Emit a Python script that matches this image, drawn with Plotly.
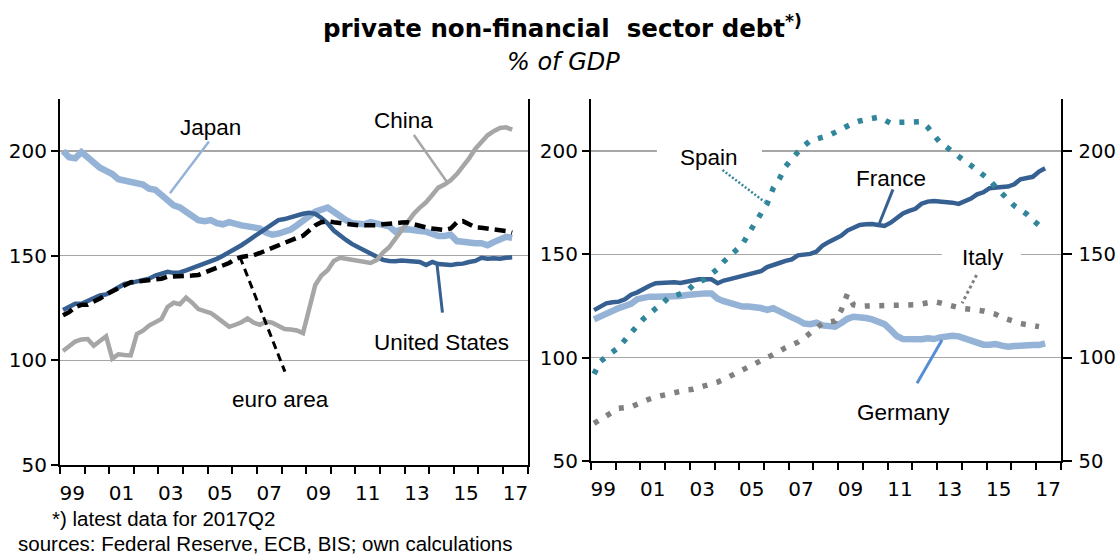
import pandas as pd
import plotly.graph_objects as go

W, H = 1117, 557

# ---------------- data (quarterly, % of GDP) ----------------
quarters = pd.period_range("1999Q1", "2017Q2", freq="Q")
dates = quarters.to_timestamp(how="start") + pd.Timedelta(days=45)

japan = [200, 197, 196.5, 199.5,
         197, 194, 192, 190.5,
         189, 186.5, 186, 185.5,
         185, 184, 182, 181.5,
         179, 176, 174, 173,
         171, 169, 167, 166.5,
         167, 165.5, 165, 166,
         165, 164.5, 164, 163.5,
         163, 161, 160, 160.5,
         161.5, 162.5, 164.5, 166.5,
         169, 171, 172, 173,
         171, 168.5, 167, 165.5,
         165, 165, 166, 165.5,
         165, 164, 161.5, 162.5,
         162.6, 162.5, 161.8, 161.5,
         160, 159.4, 159.4, 160,
         157, 156.5, 156, 156,
         156, 155, 156.5, 158,
         159, 158.5]

united_states = [124, 125.5, 127, 127,
                 128.5, 130, 131, 131.5,
                 133, 134.8, 136.5, 137,
                 137.5, 138, 139, 140.5,
                 141.5, 142.3, 141.8, 142,
                 143, 144, 145, 146,
                 147, 148.5, 150, 151.5,
                 153, 155, 157, 159,
                 161, 163, 165.5, 167,
                 167.5, 168.5, 169.5, 170,
                 170.5, 170, 168, 165.5,
                 162, 159.5, 157.5, 155.5,
                 154, 152.5, 150.5, 149,
                 148, 147.5, 147.3, 147.7,
                 147.5, 147.3, 147, 145.5,
                 147, 146, 145.5, 145.5,
                 146, 146.2, 147, 147.5,
                 149, 148.5, 148.8, 148.5,
                 149, 149.2]

euro_area = [121.5, 123, 125.5, 126.5,
             126.6, 127.8, 129.5, 131.5,
             133, 134.5, 136, 137.3,
             137.7, 137.9, 138.2, 138.6,
             139, 140, 140, 140.2,
             140.4, 140.5, 140.8, 142,
             143.2, 144.5, 145.5, 146.5,
             148.4, 149.4, 149.8, 150.2,
             151.3, 152.5, 153.5, 155.2,
             156.1, 157.7, 158.5, 159.5,
             162, 164.5, 166, 166.5,
             166, 165.5, 165, 164.8,
             164.5, 164.5, 164.3, 164.5,
             165, 165.5, 165.5, 165.8,
             166, 165, 164, 163.5,
             163, 162.5, 162.3, 163,
             166, 166.5, 165, 163.5,
             163.3, 163, 162.8, 162.3,
             161.8, 161]

china = [104.5, 107, 109, 110,
         110.2, 107, 109.4, 111.5,
         100.8, 102.9, 102.6, 102.4,
         112.6, 114.2, 116.6, 118,
         119.8, 125.5, 127.5, 126.8,
         130, 127.5, 124.5, 123.5,
         122.6, 120.5, 118, 116,
         117, 118.2, 120, 118,
         117, 118.5, 118, 116.5,
         115, 114.7, 114.3, 113,
         125, 136, 140.5, 143,
         147.5, 149, 148.5, 148,
         147.6, 147, 146.5, 148,
         151.5, 154, 158, 162,
         166, 170, 173, 175.5,
         179, 182.5, 184, 186,
         189, 192.5, 196.5, 201,
         204.5, 207.5, 209.5, 211,
         211.3, 210.2]

france = [123, 124.8, 126.3, 126.8,
          127.1, 128.2, 130.5, 131.6,
          133.5, 134.8, 136, 136.3,
          136.5, 136.5, 136.1, 136.8,
          137.6, 137.9, 137.9, 137.9,
          136, 137.3, 138, 138.8,
          139.5, 140.5, 141.2, 141.8,
          143.8, 145, 145.8, 146.8,
          147.5, 149.5, 150, 150.2,
          151.3, 154.3, 156, 157.3,
          159, 161.5, 163, 164.2,
          164.5, 164.7, 164.2, 163.7,
          165.3, 167.5, 169.8, 171,
          172, 174.5, 175.5, 175.8,
          175.7, 175.5, 175, 174.4,
          175.5, 177, 179, 180,
          182, 182.5, 182.6, 182.8,
          183.9, 186.3, 186.8, 187.5,
          190, 191.6]

germany = [118.5, 120, 121.3, 123,
           124, 125, 126, 128.3,
           129, 129.5, 129.5, 129.5,
           129.6, 129.8, 129.8, 130.3,
           130.8, 131.1, 131.1, 131.1,
           128.5, 127.3, 126.3, 125.5,
           124.7, 124.7, 124.7, 124,
           123.1, 123.9, 122.5, 120.6,
           119.5, 118.2, 116.5, 116.2,
           116.9, 115.6, 115, 115,
           116.8, 118.8, 119.8, 119.8,
           119.2, 118.5, 117.5, 116.2,
           113.4, 110.5, 109, 108.9,
           108.9, 108.9, 109.4, 109,
           109.8, 110.6, 110.6, 110.3,
           109.4, 108.5, 107.5, 106.3,
           106.3, 106.6, 105.8, 105.3,
           105.6, 106, 106.1, 106.1,
           106.1, 106.9]

spain = [92.1, 98, 100.5, 102.5,
         105, 108.5, 112.5, 115.5,
         118.8, 121.5, 123.8, 126,
         128.9, 129.8, 130.8, 132,
         135, 136.5, 138, 140.5,
         143, 146.5, 149.3, 152.5,
         154.8, 160, 164.5, 170,
         174.5, 182, 186.5, 192.5,
         196.5, 199.5, 202.5, 205,
         205.8, 206.5, 207.5, 209,
         210.5, 212.5, 213.5, 214.5,
         215, 215.5, 216.3, 215,
         213.4, 213.8, 214, 214.2,
         214.2, 214.2, 211.5, 208,
         204, 202, 199.5, 197.5,
         195, 193, 190.5, 188.5,
         186, 182.5, 179.5, 176,
         173.5, 171.5, 169.5, 166.5,
         164]

italy = [68.2, 70, 71.8, 73.5,
         75.5, 75.8, 76.2, 77.5,
         79, 80, 81, 81.8,
         82.3, 83.2, 83.8, 84.4,
         84.7, 85.5, 86.5, 87.2,
         88.2, 89.5, 91, 92.5,
         93.8, 94.8, 96.5, 97.8,
         99.5, 101, 103, 104.8,
         106, 107.5, 109.5, 112.2,
         114.5, 116.7, 117.2, 117.7,
         123, 130.8, 125.5, 124.8,
         125, 125.2, 125.2, 125.3,
         125.3, 125.3, 125.3, 125.4,
         125.6, 126, 126.6, 127.1,
         126.5, 125.6, 124.8, 124.2,
         123.7, 123.5, 123.2, 122.6,
         121.8, 121, 119.5, 118.3,
         117.7, 116.5, 116, 115.5,
         115]

year_ticks = ["1999-07-02", "2001-07-02", "2003-07-02", "2005-07-02", "2007-07-02",
              "2009-07-02", "2011-07-02", "2013-07-02", "2015-07-02", "2017-07-02"]
year_labels = ["99", "01", "03", "05", "07", "09", "11", "13", "15", "17"]
y_ticks = [50, 100, 150, 200]

# ---------------- styles ----------------
LIGHT = "#95B3D7"
DARK = "#376092"
GREY = "#A6A6A6"
TEAL = "#31869B"
DGREY = "#808080"
GER_CALL = "#558ED5"
FONT = "Liberation Sans, Arial, sans-serif"
TICKFONT = "DejaVu Sans, Verdana, sans-serif"


def px(x):
    return x / W


def py(y):
    return 1 - y / H


fig = go.Figure()

# left panel
fig.add_trace(go.Scatter(x=dates, y=japan, mode="lines", name="Japan",
                         line=dict(color=LIGHT, width=6.5), xaxis="x", yaxis="y"))
fig.add_trace(go.Scatter(x=dates, y=united_states, mode="lines", name="United States",
                         line=dict(color=DARK, width=4.5), xaxis="x", yaxis="y"))
fig.add_trace(go.Scatter(x=dates, y=china, mode="lines", name="China",
                         line=dict(color=GREY, width=4.5), xaxis="x", yaxis="y"))
fig.add_trace(go.Scatter(x=dates, y=euro_area, mode="lines", name="euro area",
                         line=dict(color="black", width=4.5, dash="11px,6px"),
                         xaxis="x", yaxis="y"))

# right panel
fig.add_trace(go.Scatter(x=dates, y=germany, mode="lines", name="Germany",
                         line=dict(color=LIGHT, width=6.5), xaxis="x2", yaxis="y2"))
fig.add_trace(go.Scatter(x=dates, y=france, mode="lines", name="France",
                         line=dict(color=DARK, width=4.5), xaxis="x2", yaxis="y2"))
fig.add_trace(go.Scatter(x=dates[:len(italy)], y=italy, mode="lines", name="Italy",
                         line=dict(color=DGREY, width=5.5, dash="5px,9.5px"),
                         xaxis="x2", yaxis="y3"))
fig.add_trace(go.Scatter(x=dates[:len(spain)], y=spain, mode="lines", name="Spain",
                         line=dict(color=TEAL, width=5.5, dash="5px,9.5px"),
                         xaxis="x2", yaxis="y3"))

xrange_ = ["1999-01-01", "2018-01-01"]
xaxis_common = dict(
    type="date", range=xrange_, showgrid=False, zeroline=False,
    showline=True, linecolor="black", linewidth=2,
    tickmode="array", tickvals=year_ticks, ticktext=year_labels,
    ticks="outside", ticklen=9, tickcolor="rgba(0,0,0,0)",
    tickfont=dict(family=TICKFONT, size=20, color="black"),
    minor=dict(ticks="outside", ticklen=7, tickwidth=2, tickcolor="black",
               tick0="1999-01-01", dtick="M12", showgrid=False),
    automargin=False, fixedrange=True,
)
yaxis_common = dict(
    range=[50, 225], tickmode="array", tickvals=y_ticks,
    showgrid=True, gridcolor="#A6A6A6", gridwidth=1.5, zeroline=False,
    showline=True, linecolor="black", linewidth=2,
    ticks="outside", ticklen=7, tickwidth=2, tickcolor="black",
    tickfont=dict(family=TICKFONT, size=20, color="black"),
    automargin=False, fixedrange=True,
)

fig.update_layout(
    width=W, height=H,
    margin=dict(l=0, r=0, t=0, b=0),
    template="none",
    paper_bgcolor="white", plot_bgcolor="white",
    showlegend=False,
    xaxis=dict(xaxis_common, domain=[px(60), px(527.7)], anchor="y"),
    yaxis=dict(yaxis_common, domain=[py(465), py(98.7)], anchor="x", mirror=True),
    xaxis2=dict(xaxis_common, domain=[px(591), px(1060.7)], anchor="y2"),
    yaxis2=dict(yaxis_common, domain=[py(461), py(99.3)], anchor="x2"),
    yaxis3=dict(yaxis_common, overlaying="y2", side="right", anchor="x2",
                showgrid=False, ticklen=9, ticklabelstandoff=3,
                tickfont=dict(family=TICKFONT, size=19.5, color="black")),
)

# white gaps in gridlines behind labels
fig.add_shape(type="rect", xref="x2", yref="y2", x0="2001-09-01", x1="2005-12-01",
              y0=197, y1=203, fillcolor="white", line=dict(width=0), layer="between")
fig.add_shape(type="rect", xref="x2", yref="y2", x0="2013-03-14", x1="2016-05-22",
              y0=147, y1=153, fillcolor="white", line=dict(width=0), layer="between")

# callout lines
callouts = [
    ("x", "y", "2005-01-19", 204.5, "2003-06-20", 179.8, LIGHT, 2.5, "solid"),
    ("x", "y", "2013-05-18", 207.7, "2014-09-16", 185.4, GREY, 2.5, "solid"),
    ("x", "y", "2014-04-27", 145.6, "2014-07-16", 122.8, DARK, 3, "solid"),
    ("x", "y", "2006-04-23", 149.5, "2008-02-20", 94.6, "black", 3, "8px,5px"),
    ("x2", "y2", "2004-04-27", 190.8, "2006-01-08", 175.4, TEAL, 2.5, "2px,2px"),
    ("x2", "y2", "2011-03-21", 181.4, "2010-09-02", 165.0, DARK, 3, "solid"),
    ("x2", "y2", "2014-08-07", 140.0, "2014-01-05", 126.3, DGREY, 3, "3px,3px"),
    ("x2", "y2", "2013-03-14", 108.5, "2012-03-10", 87.6, GER_CALL, 3, "solid"),
]
for xr, yr, x0, y0, x1, y1, col, wd, ds in callouts:
    fig.add_shape(type="line", xref=xr, yref=yr, x0=x0, y0=y0, x1=x1, y1=y1,
                  line=dict(color=col, width=wd, dash=ds), layer="above")

# series labels
labels = [
    ("Japan", 210.5, 127),
    ("China", 403.5, 120.5),
    ("United States", 441, 342),
    ("euro area", 280.6, 399),
    ("Spain", 708.7, 157),
    ("France", 890.6, 178),
    ("Italy", 983, 257),
    ("Germany", 903.5, 412),
]
for txt, x, y in labels:
    fig.add_annotation(text=txt, x=px(x), y=py(y), xref="paper", yref="paper",
                       showarrow=False, xanchor="center", yanchor="middle",
                       font=dict(family=FONT, size=22.5, color="black"))

# titles and footnotes
fig.add_annotation(text="<b>private non-financial\u00a0 sector debt<sup>*)</sup></b>",
                   x=px(562), y=py(27), xref="paper", yref="paper", showarrow=False,
                   xanchor="center", yanchor="middle",
                   font=dict(family="DejaVu Sans, Verdana, sans-serif", size=24.5, color="black"))
fig.add_annotation(text="<i>% of GDP</i>", x=px(563), y=py(62), xref="paper", yref="paper",
                   showarrow=False, xanchor="center", yanchor="middle",
                   font=dict(family="DejaVu Sans, Verdana, sans-serif", size=24, color="black"))
fig.add_annotation(text="*) latest data for 2017Q2", x=px(50), y=py(518),
                   xref="paper", yref="paper", showarrow=False,
                   xanchor="left", yanchor="middle",
                   font=dict(family=FONT, size=20.5, color="black"))
fig.add_annotation(text="sources: Federal Reserve, ECB, BIS; own calculations", x=px(16), y=py(543),
                   xref="paper", yref="paper", showarrow=False,
                   xanchor="left", yanchor="middle",
                   font=dict(family=FONT, size=20.5, color="black"))

fig.write_html("out.html",
               config={"displayModeBar": False, "staticPlot": True},
               post_script="document.body.style.margin='0px';"
                           "document.body.style.overflow='hidden';")
